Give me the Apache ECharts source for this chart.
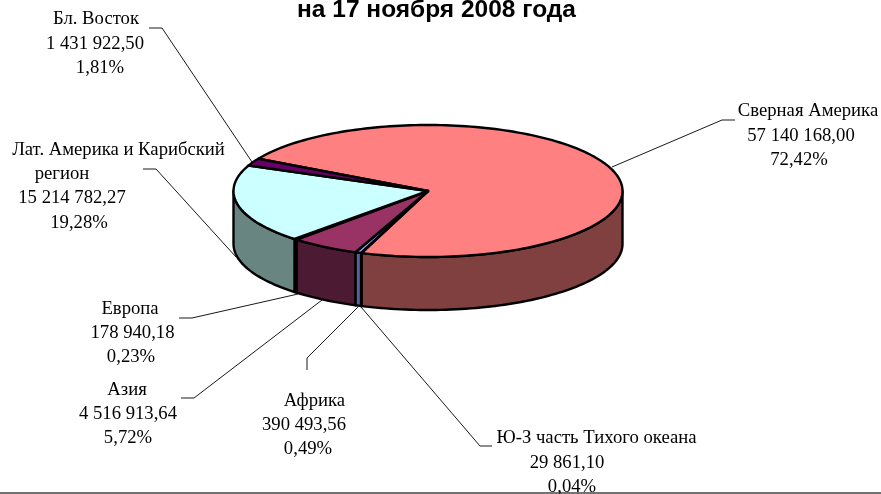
<!DOCTYPE html>
<html>
<head>
<meta charset="utf-8">
<style>html,body{margin:0;padding:0;background:#fff}#c{width:881px;height:494px}</style>
<script src="https://cdn.jsdelivr.net/npm/echarts@6/dist/echarts.min.js"></script>
</head>
<body>
<div id="c"></div>
<script>
// Data, in clockwise slice order
const regions = ['Сверная Америка','Ю-З часть Тихого океана','Африка','Азия','Европа','Лат. Америка и Карибский\nрегион','Бл. Восток'];
const values = [57140168.00, 29861.10, 390493.56, 4516913.64, 178940.18, 15214782.27, 1431922.50];
const valueLabels = ['57 140 168,00','29 861,10','390 493,56','4 516 913,64','178 940,18','15 214 782,27','1 431 922,50'];
const percentLabels = ['72,42%','0,04%','0,49%','5,72%','0,23%','19,28%','1,81%'];
const topColors = ['#FF8080','#0066CC','#9999FF','#993366','#FFFFCC','#CCFFFF','#660066'];
const sideColors = ['#804040','#003366','#5A5F9E','#4D1A33','#808066','#688582','#330033'];

// Layout
const title = 'на 17 ноября 2008 года';
const pie = {cx:428, cy:191, rx:194.5, ry:66, depth:53, start:299.3};
const labelCenters = [[808,801,799],[596.5,567,572],[314.5,304,308],[127,128,128],[130,132.5,131],[118.5,62,72,79],[96,95,100]];
const labelTops = [111.5,438.5,401,390,309,150,19.5];
const leaders = [
  [[735,120],[722,120],[612,167]],
  [[492,446],[480,446],[361,307]],
  [[307,370],[307,358],[358,307]],
  [[181,398],[194,398],[322,300]],
  [[179,318],[192,318],[298,294]],
  [[143,169],[156,169],[236,257]],
  [[149,28],[162,28],[252,162]]
];

const total = values.reduce((a,b)=>a+b,0);
const spans = []; let acc = pie.start;
values.forEach(v=>{const s=v/total*360; spans.push([acc,acc+s]); acc+=s;});
const pt = (deg,dy)=>{const r=deg*Math.PI/180; return [pie.cx+pie.rx*Math.sin(r), pie.cy-pie.ry*Math.cos(r)+(dy||0)];};
const arc = (a,b,dy)=>{const out=[],n=Math.max(2,Math.ceil((b-a)/1.5)); for(let i=0;i<=n;i++) out.push(pt(a+(b-a)*i/n,dy)); return out;};

function renderSide(params, api){
  const i = params.dataIndex, [a,b] = spans[i], parts = [];
  for (const k of [0,360]) {
    const s=Math.max(a,90+k), e=Math.min(b,270+k);
    if (e>s) parts.push({type:'polygon',
      shape:{points:arc(s,e,0).concat(arc(s,e,pie.depth).reverse())},
      style:{fill:sideColors[i],stroke:'#000',lineWidth:2.4,lineJoin:'round'}});
  }
  return {type:'group',children:parts};
}
function renderTop(params, api){
  const i = params.dataIndex, [a,b] = spans[i];
  return {type:'polygon',
    shape:{points:[[pie.cx,pie.cy]].concat(arc(a,b,0))},
    style:{fill:topColors[i],stroke:'#000',lineWidth:2.4,lineJoin:'round'}};
}
function renderLabel(params, api){
  const i = params.dataIndex;
  const lines = regions[i].split('\n').concat([valueLabels[i],percentLabels[i]]);
  const kids = [{type:'polyline',shape:{points:leaders[i]},style:{fill:null,stroke:'#1a1a1a',lineWidth:1}}];
  lines.forEach((t,j)=>kids.push({type:'text',style:{
    text:t,x:labelCenters[i][j],y:labelTops[i]+j*24.2,
    textAlign:'center',textVerticalAlign:'middle',
    font:'18.7px "Liberation Serif"',fill:'#000'}}));
  return {type:'group',children:kids};
}
const rows = values.map((v,i)=>({name:regions[i],value:[i,v]}));
const chart = echarts.init(document.getElementById('c'),null,{renderer:'canvas'});
chart.setOption({
  animation:false,
  backgroundColor:'#fff',
  title:{text:title,left:431.5,top:-7,textAlign:'center',
    textStyle:{fontFamily:'Liberation Sans',fontWeight:'bold',fontSize:24.5,color:'#000'}},
  tooltip:{show:false},
  graphic:[{type:'line',shape:{x1:0,y1:493,x2:881,y2:493},style:{stroke:'#444',lineWidth:1.5}}],
  series:[
    {type:'custom',name:'labels',coordinateSystem:'none',renderItem:renderLabel,data:rows,silent:true,z:1},
    {type:'custom',name:'sides',coordinateSystem:'none',renderItem:renderSide,data:rows,silent:true,z:2},
    {type:'custom',name:'tops',coordinateSystem:'none',renderItem:renderTop,data:rows,silent:true,z:3}
  ]
});
</script>
</body>
</html>
